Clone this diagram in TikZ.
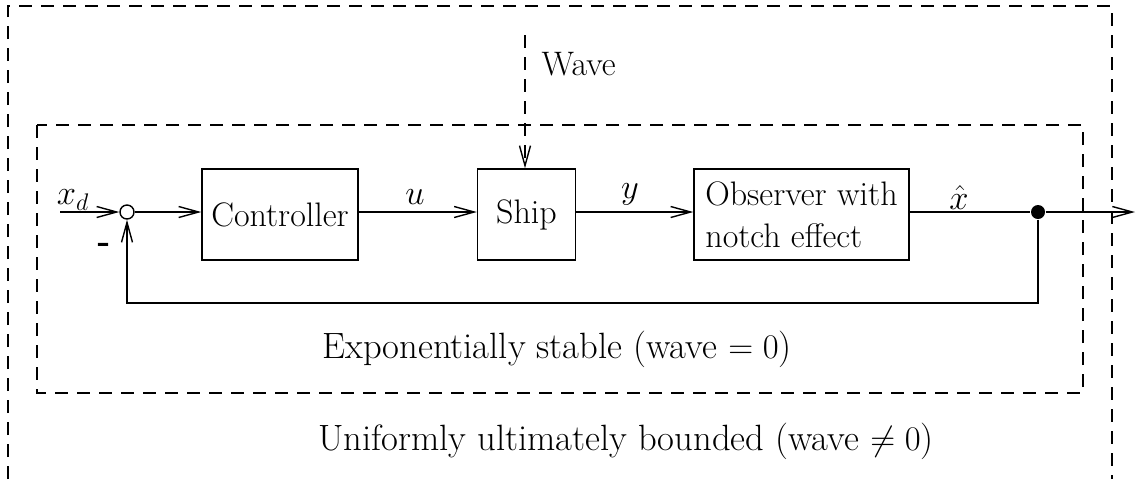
\documentclass[tikz,border=0pt]{standalone}
\usetikzlibrary{arrows.meta}
\begin{document}
\begin{tikzpicture}[x=0.5pt,y=-0.5pt,
  line width=0.7pt,
  tip/.style={-{Straight Barb[length=10pt,width=5.5pt,line width=0.7pt]}},
  blk/.style={draw,rectangle,inner sep=0pt,font=\fontsize{17}{21}\selectfont},
  lbl/.style={font=\fontsize{17}{21}\selectfont,inner sep=0pt},
  region/.style={dash pattern=on 6.5pt off 4.5pt,line width=0.6pt},
  big/.style={font=\fontsize{18.3}{22}\selectfont,inner sep=0pt}]
\useasboundingbox (0,0) rectangle (1136,479);
% regions
\draw[region] (8,479) -- (8,6) -- (1112,6) -- (1112,479);
\draw[region] (37,125) rectangle (1083,393);
% blocks
\node[draw,circle,minimum size=7pt,inner sep=0pt] (sum) at (127,212) {};
\node[blk,minimum width=78pt,minimum height=45.5pt] (ctrl) at (280,214.5) {Controller};
\node[blk,minimum width=49pt,minimum height=45.5pt] (ship) at (526.5,214.5) {Ship};
\node[blk,minimum width=107.5pt,minimum height=45.5pt,align=left] (obs) at (801.5,214.5) {Observer with\\notch effect};
\node[circle,fill,minimum size=7pt,inner sep=0pt] (dot) at (1038,212) {};
\coordinate (in) at (60,212);
\coordinate (out) at (1135,212);
\coordinate (wv) at (525,35);
\coordinate (fb) at (1038,303);
\coordinate (fb2) at (127,303);
% connectors
\draw[tip] (in) -- (sum);
\draw[tip] (sum) -- (sum -| ctrl.west);
\draw[tip] (ctrl.east |- sum) -- (ship.west |- sum);
\draw[tip] (ship.east |- sum) -- (obs.west |- sum);
\draw (obs.east |- sum) -- (dot);
\draw[tip] (dot) -- (out);
\draw[tip] (dot) -- (fb) -- (fb2) -- (sum);
\draw[tip,dash pattern=on 6.5pt off 4.5pt,line width=0.6pt] (wv) -- (wv |- ship.north);
% labels
\node[lbl] (lxd) at (73,200) {$x_d$};
\node[lbl] (lminus) at (104,248) {\textbf{-}};
\node[lbl] (lu) at (415,197) {$u$};
\node[lbl] (ly) at (630,194) {$y$};
\node[lbl] (lxh) at (959,197) {$\hat{x}$};
\node[lbl,anchor=west] (lwave) at (541,64) {Wave};
\node[big] (es) at (557,349) {Exponentially stable (wave $=0$)};
\node[big] (uub) at (626,441) {Uniformly ultimately bounded (wave $\neq 0$)};
\end{tikzpicture}
\end{document}
